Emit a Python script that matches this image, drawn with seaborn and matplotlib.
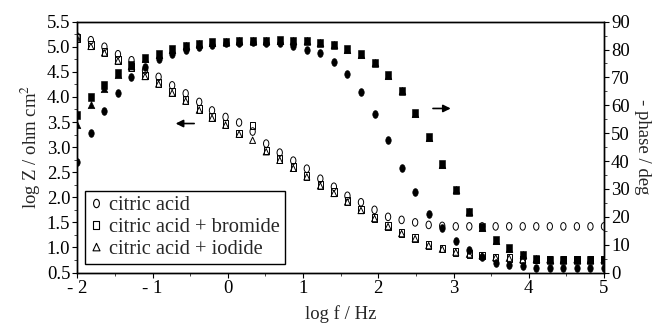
import numpy as np
import pandas as pd
import matplotlib
matplotlib.use("Agg")
import matplotlib.pyplot as plt
from matplotlib.lines import Line2D
from matplotlib.ticker import MultipleLocator
from matplotlib.path import Path
from matplotlib.transforms import Affine2D
import seaborn as sns

# ---------------- data ----------------
log_f = [-2.00, -1.82, -1.64, -1.46, -1.28, -1.10, -0.92, -0.74, -0.56, -0.38,
         -0.21, -0.03, 0.15, 0.33, 0.51, 0.69, 0.87, 1.05, 1.23, 1.41,
         1.59, 1.77, 1.95, 2.13, 2.31, 2.49, 2.67, 2.85, 3.03, 3.21,
         3.38, 3.56, 3.74, 3.92, 4.10, 4.28, 4.46, 4.64, 4.82, 5.00]

logz_citric = [5.20, 5.13, 5.00, 4.85, 4.73, 4.53, 4.40, 4.23, 4.07, 3.90,
               3.73, 3.60, 3.49, 3.31, 3.07, 2.89, 2.73, 2.57, 2.37, 2.21,
               2.03, 1.90, 1.75, 1.61, 1.55, 1.50, 1.45, 1.43, 1.42, 1.42,
               1.42, 1.42, 1.42, 1.42, 1.42, 1.42, 1.42, 1.42, 1.42, 1.42]

logz_bromide = [5.18, 5.03, 4.90, 4.74, 4.60, 4.43, 4.28, 4.10, 3.94, 3.76,
                3.60, 3.46, 3.27, 3.43, 2.93, 2.76, 2.60, 2.43, 2.25, 2.10,
                1.93, 1.76, 1.59, 1.43, 1.29, 1.19, 1.05, 0.98, 0.91, 0.87,
                0.84, 0.80, 0.79, 0.76, 0.76, 0.76, 0.76, 0.76, 0.76, 0.76]

logz_iodide = [5.15, 5.00, 4.87, 4.71, 4.57, 4.40, 4.25, 4.07, 3.91, 3.73,
               3.57, 3.43, 3.25, 3.13, 2.90, 2.73, 2.57, 2.40, 2.22, 2.07,
               1.90, 1.73, 1.57, 1.41, 1.27, 1.17, 1.03, 0.96, 0.90, 0.86,
               0.83, 0.79, 0.78, 0.75, 0.75, 0.75, 0.75, 0.75, 0.75, 0.75]

phase_citric = [39.8, 50.0, 58.0, 64.3, 70.3, 73.9, 76.5, 78.5, 80.0, 81.0,
                81.8, 82.2, 82.5, 82.7, 82.5, 82.2, 81.4, 79.9, 78.7, 75.7,
                71.2, 64.9, 56.7, 47.6, 37.4, 29.0, 20.9, 15.9, 11.3, 8.1,
                5.5, 3.4, 2.8, 2.2, 1.8, 1.8, 1.8, 1.8, 1.8, 1.8]

phase_bromide = [56.5, 63.1, 67.3, 71.7, 74.5, 76.9, 78.3, 80.2, 81.4, 82.1,
                 82.6, 82.6, 83.1, 83.2, 83.2, 83.3, 83.2, 83.0, 82.4, 81.6,
                 80.1, 78.4, 75.3, 70.9, 65.3, 57.2, 48.5, 38.8, 29.7, 21.9,
                 16.3, 11.7, 8.8, 6.4, 4.8, 4.6, 4.6, 4.6, 4.6, 4.6]

phase_iodide = [53.0, 60.1, 66.0, 70.8, 74.0, 76.5, 78.0, 80.0, 81.3, 82.0,
                82.5, 82.6, 83.0, 83.1, 83.1, 83.2, 83.1, 82.9, 82.3, 81.5,
                80.0, 78.2, 75.0, 70.6, 65.0, 57.0, 48.2, 38.6, 29.5, 21.7,
                16.1, 11.5, 8.6, 6.2, 4.7, 4.5, 4.5, 4.5, 4.5, 4.5]

labels = ["citric acid", "citric acid + bromide", "citric acid + iodide"]
x_tick_vals = [-2, -1, 0, 1, 2, 3, 4, 5]
x_tick_labels = ["- 2", "- 1", "0", "1", "2", "3", "4", "5"]
yl_ticks = [0.5, 1.0, 1.5, 2.0, 2.5, 3.0, 3.5, 4.0, 4.5, 5.0, 5.5]
yr_ticks = [0, 10, 20, 30, 40, 50, 60, 70, 80, 90]

# ---------------- style ----------------
sns.set_style("ticks")
plt.rcParams["font.family"] = ["Liberation Serif", "DejaVu Serif"]
plt.rcParams["mathtext.fontset"] = "stix"

FS = 13.5

# narrow (tall) marker shapes as in the reference
oval = Path.unit_circle().transformed(Affine2D().scale(0.7, 1.0))
rect = Path([(-0.35, -0.5), (0.35, -0.5), (0.35, 0.5), (-0.35, 0.5), (-0.35, -0.5)],
            [Path.MOVETO, Path.LINETO, Path.LINETO, Path.LINETO, Path.CLOSEPOLY])
tri = Path([(-0.42, -0.4), (0.42, -0.4), (0.0, 0.5), (-0.42, -0.4)],
           [Path.MOVETO, Path.LINETO, Path.LINETO, Path.CLOSEPOLY])

fig = plt.figure(figsize=(6.57, 3.28), dpi=100)
ax = fig.add_axes([0.1177, 0.169, 0.8016, 0.765])
ax2 = ax.twinx()

df = pd.DataFrame({"log_f": log_f,
                   "citric": logz_citric, "bromide": logz_bromide, "iodide": logz_iodide,
                   "p_citric": phase_citric, "p_bromide": phase_bromide, "p_iodide": phase_iodide})

open_kw = dict(facecolors="none", edgecolors="black", linewidth=0.7, legend=False)
sns.scatterplot(data=df, x="log_f", y="citric", marker=oval, s=30, ax=ax, **open_kw)
sns.scatterplot(data=df, x="log_f", y="bromide", marker=rect, s=30, ax=ax, **open_kw)
sns.scatterplot(data=df, x="log_f", y="iodide", marker=tri, s=26, ax=ax, **open_kw)

fill_kw = dict(color="black", edgecolor="black", linewidth=0.4, legend=False)
sns.scatterplot(data=df, x="log_f", y="p_iodide", marker=tri, s=34, ax=ax2, **fill_kw)
sns.scatterplot(data=df, x="log_f", y="p_bromide", marker=rect, s=40, ax=ax2, **fill_kw)
sns.scatterplot(data=df, x="log_f", y="p_citric", marker=oval, s=32, ax=ax2, **fill_kw)

ax.set_xlim(-2, 5)
ax.set_ylim(0.5, 5.5)
ax2.set_ylim(0, 90)

ax.set_xticks(x_tick_vals)
ax.set_xticklabels(x_tick_labels)
ax.xaxis.set_minor_locator(MultipleLocator(0.5))
ax.set_yticks(yl_ticks)
ax.set_yticklabels([f"{v:.1f}" for v in yl_ticks])
ax.yaxis.set_minor_locator(MultipleLocator(0.25))
ax2.set_yticks(yr_ticks)
ax2.yaxis.set_minor_locator(MultipleLocator(5))

for a in (ax, ax2):
    for s in a.spines.values():
        s.set_visible(True)
        s.set_linewidth(1.0)
        s.set_color("black")
    a.tick_params(which="major", direction="out", length=3.5, width=0.8,
                  labelsize=FS, colors="black", pad=1.5)
    a.tick_params(which="minor", direction="out", length=2, width=0.6)
ax.tick_params(axis="x", which="both", top=False)

ax.set_xlabel("log f / Hz", fontsize=FS, labelpad=6)
ax.set_ylabel("log Z / ohm cm$^2$", fontsize=FS, labelpad=3)
ax2.set_ylabel("- phase / deg", fontsize=FS, rotation=270, labelpad=15)

# arrows
ax.annotate("", xy=(-0.73, 3.47), xytext=(-0.41, 3.47),
            arrowprops=dict(arrowstyle="-|>", color="black", lw=1.2, mutation_scale=11))
ax.annotate("", xy=(3.0, 3.77), xytext=(2.69, 3.77),
            arrowprops=dict(arrowstyle="-|>", color="black", lw=1.2, mutation_scale=11))

handles = [Line2D([], [], marker=m, linestyle="none", markerfacecolor="none",
                  markeredgecolor="black", markersize=6, markeredgewidth=0.8)
           for m in [oval, rect, tri]]
leg = ax2.legend(handles, labels, loc="lower left", bbox_to_anchor=(0.015, 0.033),
                 frameon=True, fancybox=False, edgecolor="black", framealpha=1,
                 fontsize=14.8, handlelength=0.5, handletextpad=0.4, labelspacing=0.12,
                 borderpad=0.25, borderaxespad=0)
leg.get_frame().set_linewidth(1.0)

fig.savefig("out.png", dpi=100)
